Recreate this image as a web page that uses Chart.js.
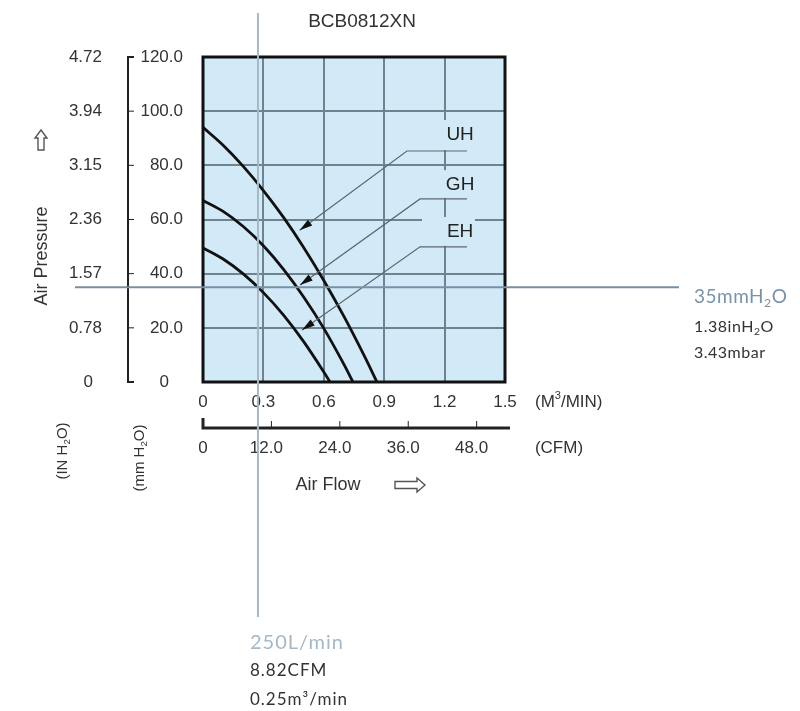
<!DOCTYPE html>
<html>
<head>
<meta charset="utf-8">
<script src="https://cdn.jsdelivr.net/npm/chart.js@4.4.1/dist/chart.umd.min.js"></script>
<style>
  html, body { margin: 0; padding: 0; background: #fff; }
  canvas { display: block; }
</style>
</head>
<body>
<canvas id="fan-chart" width="800" height="711"></canvas>
<script>
const chartTitle = 'BCB0812XN';

// axis ticks (air flow in m3/min, pressure in mmH2O)
const flowTicks = [0, 0.3, 0.6, 0.9, 1.2, 1.5];
const flowTickLabels = ['0', '0.3', '0.6', '0.9', '1.2', '1.5'];
const cfmTicks = [0, 12, 24, 36, 48];
const cfmTickLabels = ['0', '12.0', '24.0', '36.0', '48.0'];
const mmTicks = [0, 20, 40, 60, 80, 100, 120];
const mmTickLabels = ['0', '20.0', '40.0', '60.0', '80.0', '100.0', '120.0'];
const inchTickLabels = ['0', '0.78', '1.57', '2.36', '3.15', '3.94', '4.72'];

// fan curves
const uhFlow = [0, 0.1, 0.2, 0.3, 0.4, 0.5, 0.6, 0.7, 0.8, 0.864];
const uhPressure = [94, 87.4, 79.6, 70.7, 60.8, 49.7, 37.5, 24.2, 9.8, 0];
const ghFlow = [0, 0.1, 0.2, 0.3, 0.4, 0.5, 0.6, 0.7, 0.745];
const ghPressure = [67, 63, 57.4, 50.3, 41.6, 31.4, 19.8, 6.5, 0];
const ehFlow = [0, 0.1, 0.2, 0.3, 0.4, 0.5, 0.6, 0.631];
const ehPressure = [49.5, 45.4, 39.9, 33, 24.7, 14.9, 3.7, 0];

// operating point marker
const markerFlow = 0.273;
const markerPressure = 35;

const CFM_PER_M3MIN = 35.3147;

// callouts: arrow tip on the curve, elbow, label anchor (data units)
const callouts = [
  { label: 'UH', tip: [0.48, 56], elbow: [1.013, 85.3], end: 1.311, text: [1.277, 91.2] },
  { label: 'GH', tip: [0.482, 35.8], elbow: [1.078, 67.6], end: 1.311, text: [1.277, 72.7] },
  { label: 'EH', tip: [0.492, 19.2], elbow: [1.078, 49.9], end: 1.311, text: [1.277, 55.4] }
];

const FONT = '"Liberation Sans", Arial, sans-serif';
const NOTE_FONT = 'Lato, "Open Sans", sans-serif';

function pts(xs, ys) {
  return xs.map((x, i) => ({ x: x, y: ys[i] }));
}

function curve(xs, ys) {
  return {
    data: pts(xs, ys),
    borderColor: '#111',
    borderWidth: 2.8,
    pointRadius: 0,
    fill: false,
    cubicInterpolationMode: 'monotone'
  };
}

function text(ctx, s, x, y, size, color, align, font, spacing) {
  ctx.font = size + 'px ' + (font || FONT);
  ctx.letterSpacing = (spacing || 0) + 'px';
  ctx.fillStyle = color;
  ctx.textAlign = align || 'center';
  ctx.textBaseline = 'middle';
  ctx.fillText(s, x, y);
  ctx.letterSpacing = '0px';
}

// parts: [[text, 'sub'|'sup'|undefined], ...]
function rich(ctx, parts, x, y, size, color, align, font, spacing) {
  const f = font || FONT;
  ctx.letterSpacing = (spacing || 0) + 'px';
  let w = 0;
  parts.forEach(p => {
    ctx.font = (p[1] ? size * 0.65 : size) + 'px ' + f;
    w += ctx.measureText(p[0]).width;
  });
  let cx = align === 'center' ? x - w / 2 : (align === 'right' ? x - w : x);
  ctx.fillStyle = color;
  ctx.textAlign = 'left';
  ctx.textBaseline = 'middle';
  parts.forEach(p => {
    const s = p[1] ? size * 0.65 : size;
    ctx.font = s + 'px ' + f;
    let dy = 0;
    if (p[1] === 'sub') dy = size * 0.3;
    if (p[1] === 'sup') dy = -size * 0.35;
    ctx.fillText(p[0], cx, y + dy);
    cx += ctx.measureText(p[0]).width;
  });
  ctx.letterSpacing = '0px';
}

const decorPlugin = {
  id: 'decor',
  beforeDraw(chart) {
    const { ctx, chartArea: a } = chart;
    ctx.save();
    ctx.fillStyle = '#d2eaf8';
    ctx.fillRect(a.left, a.top, a.right - a.left, a.bottom - a.top);
    ctx.restore();
  },
  afterDatasetsDraw(chart) {
    const { ctx, chartArea: a } = chart;
    const xs = chart.scales.x, ys = chart.scales.y;
    const X = v => xs.getPixelForValue(v);
    const Y = v => ys.getPixelForValue(v);
    ctx.save();

    // label patches hide the grid behind the curve names
    callouts.forEach(c => {
      const top = Y(c.text[1]) - 15;
      ctx.fillStyle = '#d2eaf8';
      ctx.fillRect(X(c.elbow[0]) + 2, top, X(c.end) - X(c.elbow[0]) + 6, Y(c.elbow[1]) - 1 - top);
    });

    // leader lines + arrowheads
    callouts.forEach(c => {
      const tx = X(c.tip[0]), ty = Y(c.tip[1]);
      const ex = X(c.elbow[0]), ey = Y(c.elbow[1]);
      ctx.strokeStyle = '#5a6670';
      ctx.lineWidth = 1.2;
      ctx.beginPath();
      ctx.moveTo(tx, ty);
      ctx.lineTo(ex, ey);
      ctx.lineTo(X(c.end), ey);
      ctx.stroke();
      const ang = Math.atan2(ey - ty, ex - tx);
      const len = 13, hw = 3.6;
      const bx = tx + Math.cos(ang) * len, by = ty + Math.sin(ang) * len;
      ctx.fillStyle = '#111';
      ctx.beginPath();
      ctx.moveTo(tx, ty);
      ctx.lineTo(bx - Math.sin(ang) * hw, by + Math.cos(ang) * hw);
      ctx.lineTo(bx + Math.sin(ang) * hw, by - Math.cos(ang) * hw);
      ctx.closePath();
      ctx.fill();
      text(ctx, c.label, X(c.text[0]), Y(c.text[1]), 19, '#222', 'center');
    });

    // plot frame
    ctx.strokeStyle = '#111';
    ctx.lineWidth = 3;
    ctx.strokeRect(a.left, a.top, a.right - a.left, a.bottom - a.top);
    ctx.restore();
  },
  afterDraw(chart) {
    const { ctx } = chart;
    const xs = chart.scales.x, ys = chart.scales.y;
    const X = v => xs.getPixelForValue(v);
    const Y = v => ys.getPixelForValue(v);
    ctx.save();

    text(ctx, chartTitle, 362, 22, 19, '#333', 'center');

    // pressure scales on the left
    const axX = 128;
    ctx.strokeStyle = '#222';
    ctx.lineWidth = 2;
    ctx.beginPath();
    ctx.moveTo(axX + 6, Y(120));
    ctx.lineTo(axX, Y(120));
    ctx.lineTo(axX, Y(0));
    ctx.lineTo(axX + 6, Y(0));
    ctx.stroke();
    ctx.lineWidth = 1;
    mmTicks.forEach((v, i) => {
      if (i > 0 && i < mmTicks.length - 1) {
        ctx.beginPath();
        ctx.moveTo(axX, Y(v));
        ctx.lineTo(axX + 6, Y(v));
        ctx.stroke();
      }
      text(ctx, mmTickLabels[i], v === 0 ? 169 : 183, Y(v), 17, '#333', 'right');
      text(ctx, inchTickLabels[i], v === 0 ? 93 : 102, Y(v), 17, '#333', 'right');
    });

    // Air Pressure title and up arrow
    ctx.save();
    ctx.translate(42, 256);
    ctx.rotate(-Math.PI / 2);
    text(ctx, 'Air Pressure', 0, 0, 18, '#333', 'center');
    ctx.restore();
    ctx.strokeStyle = '#555';
    ctx.lineWidth = 1.4;
    ctx.beginPath();
    ctx.moveTo(41, 130); ctx.lineTo(47, 138); ctx.lineTo(44, 138); ctx.lineTo(44, 150);
    ctx.lineTo(38, 150); ctx.lineTo(38, 138); ctx.lineTo(35, 138); ctx.closePath();
    ctx.stroke();

    // unit titles (rotated)
    ctx.save();
    ctx.translate(63, 451);
    ctx.rotate(-Math.PI / 2);
    rich(ctx, [['(IN H'], ['2', 'sub'], ['O)']], 0, 0, 15, '#333', 'center');
    ctx.restore();
    ctx.save();
    ctx.translate(140, 458);
    ctx.rotate(-Math.PI / 2);
    rich(ctx, [['(mm H'], ['2', 'sub'], ['O)']], 0, 0, 15, '#333', 'center');
    ctx.restore();

    // air flow scales below
    flowTicks.forEach((v, i) => {
      text(ctx, flowTickLabels[i], X(v), 402, 17, '#333', 'center');
    });
    rich(ctx, [['(M'], ['3', 'sup'], ['/MIN)']], 535, 402, 17, '#333', 'left');

    const cfmY = 428;
    ctx.strokeStyle = '#222';
    ctx.lineWidth = 3;
    ctx.beginPath();
    ctx.moveTo(X(0), cfmY - 10);
    ctx.lineTo(X(0), cfmY);
    ctx.lineTo(X(1.5) + 5, cfmY);
    ctx.stroke();
    ctx.lineWidth = 1;
    cfmTicks.forEach((v, i) => {
      const px = X(v / CFM_PER_M3MIN);
      if (i > 0) {
        ctx.beginPath();
        ctx.moveTo(px, cfmY);
        ctx.lineTo(px, cfmY - 7);
        ctx.stroke();
      }
      text(ctx, cfmTickLabels[i], px - (i > 0 ? 5 : 0), 448, 17, '#333', 'center');
    });
    text(ctx, '(CFM)', 559, 448, 17, '#333', 'center');
    text(ctx, 'Air Flow', 328, 485, 18, '#333', 'center');
    ctx.strokeStyle = '#555';
    ctx.lineWidth = 1.4;
    ctx.beginPath();
    ctx.moveTo(425, 485); ctx.lineTo(417, 478); ctx.lineTo(417, 481.5); ctx.lineTo(395, 481.5);
    ctx.lineTo(395, 488.5); ctx.lineTo(417, 488.5); ctx.lineTo(417, 492); ctx.closePath();
    ctx.stroke();

    // operating point marker lines
    const mx = X(markerFlow), my = Y(markerPressure);
    ctx.lineWidth = 2;
    ctx.strokeStyle = '#a6b8c6';
    ctx.beginPath();
    ctx.moveTo(mx, 13);
    ctx.lineTo(mx, 617);
    ctx.stroke();
    ctx.strokeStyle = '#7890a3';
    ctx.beginPath();
    ctx.moveTo(75, my);
    ctx.lineTo(679, my);
    ctx.stroke();

    rich(ctx, [['35mmH'], ['2', 'sub'], ['O']], 694, 297, 19, '#7a92a8', 'left', NOTE_FONT, 0.5);
    rich(ctx, [['1.38inH'], ['2', 'sub'], ['O']], 694, 327, 16, '#333', 'left', NOTE_FONT, 0.5);
    text(ctx, '3.43mbar', 694, 353, 16, '#333', 'left', NOTE_FONT, 0.5);

    text(ctx, '250L/min', mx - 8, 643, 20, '#a6b8c6', 'left', NOTE_FONT, 1);
    text(ctx, '8.82CFM', mx - 8, 671, 17, '#333', 'left', NOTE_FONT, 1);
    text(ctx, '0.25m³/min', mx - 8, 700, 17, '#333', 'left', NOTE_FONT, 1);

    ctx.restore();
  }
};

new Chart(document.getElementById('fan-chart').getContext('2d'), {
  type: 'line',
  data: {
    datasets: [
      curve(uhFlow, uhPressure),
      curve(ghFlow, ghPressure),
      curve(ehFlow, ehPressure)
    ]
  },
  options: {
    responsive: false,
    animation: false,
    layout: { padding: { left: 203, right: 295, top: 57, bottom: 329 } },
    plugins: { legend: { display: false }, tooltip: { enabled: false } },
    scales: {
      x: {
        type: 'linear', min: 0, max: 1.5,
        ticks: { display: false, stepSize: 0.3 },
        grid: { color: '#6f838f', lineWidth: 2, drawTicks: false },
        border: { display: false }
      },
      y: {
        type: 'linear', min: 0, max: 120,
        ticks: { display: false, stepSize: 20 },
        grid: { color: '#6f838f', lineWidth: 2, drawTicks: false },
        border: { display: false }
      }
    }
  },
  plugins: [decorPlugin]
});
</script>
</body>
</html>
